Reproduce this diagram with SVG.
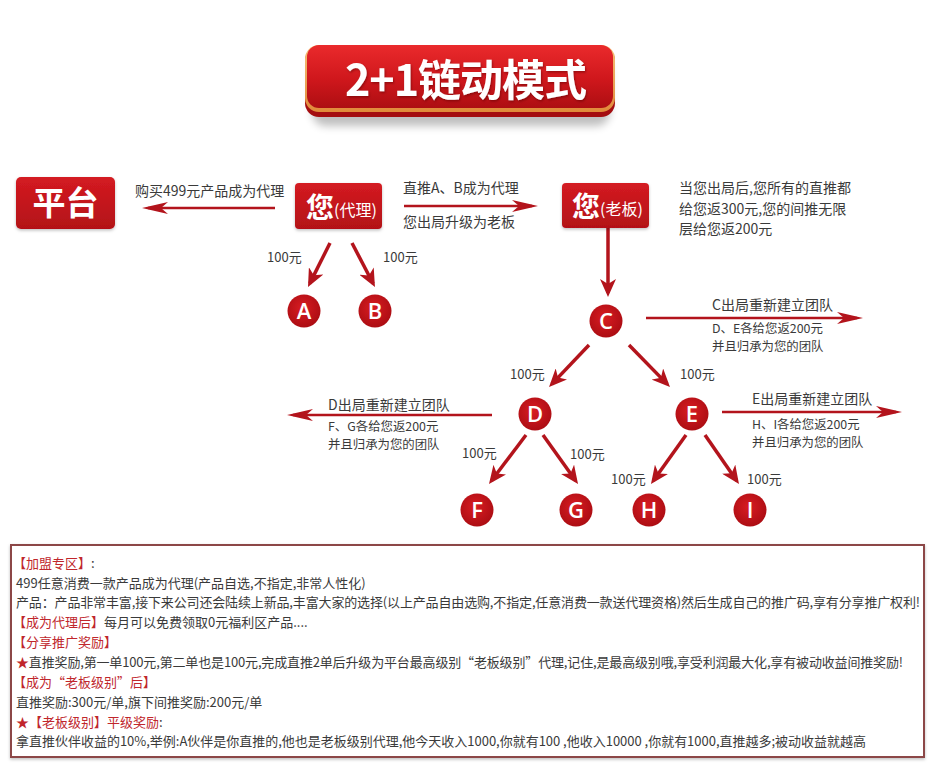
<svg xmlns="http://www.w3.org/2000/svg" width="933" height="766" viewBox="0 0 933 766">
<style>
  text { font-family: "Noto Sans CJK SC", "Noto Sans", sans-serif; }
  .lbl { font-size: 14px; fill: #3a3a3a; }
  .sub { font-size: 12.4px; fill: #3a3a3a; }
  .amt { font-size: 13px; fill: #3a3a3a; }
  .box { fill: url(#gBox); }
  .boxtxt { fill: #ffffff; }
  .circ { fill: url(#gCircle); }
  .ltr { font-family: "Open Sans", "Noto Sans", sans-serif; font-size: 22px; font-weight: 600; fill: #ffffff; text-anchor: middle; }
  .ah { stroke: #b3141c; stroke-width: 2.5; fill: none; marker-end: url(#mH); }
  .ad { stroke: #b3141c; stroke-width: 3.5; fill: none; marker-end: url(#mD); }
  .body { font-size: 13px; fill: #3a3a3a; }
  .red { fill: #c0262c; }
</style>
<defs>
  <linearGradient id="gTitle" x1="0" y1="0" x2="0" y2="1">
    <stop offset="0" stop-color="#ea2a2c"/>
    <stop offset="0.55" stop-color="#cf171c"/>
    <stop offset="1" stop-color="#ad0e12"/>
  </linearGradient>
  <linearGradient id="gGold" x1="0" y1="0" x2="0" y2="1">
    <stop offset="0" stop-color="#f6c27a"/>
    <stop offset="1" stop-color="#e08a3a"/>
  </linearGradient>
  <linearGradient id="gBox" x1="0" y1="0" x2="0" y2="1">
    <stop offset="0" stop-color="#d41b21"/>
    <stop offset="1" stop-color="#b31118"/>
  </linearGradient>
  <radialGradient id="gCircle" cx="0.45" cy="0.4" r="0.65">
    <stop offset="0" stop-color="#d81c22"/>
    <stop offset="1" stop-color="#a90c12"/>
  </radialGradient>
  <marker id="mH" markerUnits="userSpaceOnUse" viewBox="0 0 26 12" markerWidth="26" markerHeight="12" refX="20" refY="6" orient="auto">
    <path d="M0,0 L26,6 L0,12 L7,6 Z" fill="#b3141c"/>
  </marker>
  <marker id="mD" markerUnits="userSpaceOnUse" viewBox="0 0 18 16" markerWidth="18" markerHeight="16" refX="14" refY="8" orient="auto">
    <path d="M0,0 L18,8 L0,16 L5,8 Z" fill="#b3141c"/>
  </marker>
  <filter id="shTitle" x="-10%" y="-20%" width="120%" height="160%">
    <feGaussianBlur stdDeviation="4"/>
  </filter>
  <filter id="shSmall" x="-10%" y="-10%" width="120%" height="130%">
    <feDropShadow dx="0" dy="1.5" stdDeviation="1.5" flood-color="#000" flood-opacity="0.25"/>
  </filter>
  <filter id="txtSh" x="-5%" y="-10%" width="110%" height="130%">
    <feDropShadow dx="1" dy="1.5" stdDeviation="1" flood-color="#5a0000" flood-opacity="0.5"/>
  </filter>
</defs>

<rect width="933" height="766" fill="#ffffff"/>

<g id="title">
  <rect x="312" y="58" width="298" height="68" rx="14" fill="#000" opacity="0.25" filter="url(#shTitle)"/>
  <rect x="305" y="47" width="310" height="70" rx="14" fill="#a40d10"/>
  <rect x="305" y="45" width="310" height="67" rx="14" fill="url(#gGold)"/>
  <rect x="307" y="45" width="306" height="63" rx="12" fill="url(#gTitle)"/>
  <text x="466" y="96" text-anchor="middle" font-size="43" font-weight="bold" fill="#ffffff" filter="url(#txtSh)" textLength="242">2+1链动模式</text>
</g>

<g id="connectors">
  <line class="ah" x1="275" y1="208" x2="148" y2="208"/>
  <line class="ah" x1="404" y1="206" x2="532" y2="206"/>
  <line class="ah" x1="646" y1="318" x2="857" y2="318"/>
  <line class="ah" x1="492" y1="415" x2="293" y2="415"/>
  <line class="ah" x1="722" y1="412" x2="896" y2="412"/>
  <line class="ad" x1="330" y1="243" x2="309.8" y2="283.4"/>
  <line class="ad" x1="352" y1="243" x2="373.1" y2="283.5"/>
  <line class="ad" x1="608" y1="228" x2="608" y2="293"/>
  <line class="ad" x1="589" y1="345" x2="551.8" y2="384.1"/>
  <line class="ad" x1="629" y1="345" x2="667.2" y2="384.1"/>
  <line class="ad" x1="526" y1="435" x2="491.4" y2="480.8"/>
  <line class="ad" x1="543" y1="435" x2="575.7" y2="480.7"/>
  <line class="ad" x1="686" y1="435" x2="653.3" y2="480.7"/>
  <line class="ad" x1="705" y1="435" x2="736.7" y2="480.7"/>
</g>

<g id="labels">
  <text class="lbl" x="135" y="196">购买499元产品成为代理</text>
  <text class="lbl" x="403" y="193">直推A、B成为代理</text>
  <text class="lbl" x="403" y="227">您出局升级为老板</text>
  <text class="lbl" x="679" y="193">当您出局后,您所有的直推都</text>
  <text class="lbl" x="679" y="214">给您返300元,您的间推无限</text>
  <text class="lbl" x="679" y="234">层给您返200元</text>
  <text class="amt" x="267" y="262">100元</text>
  <text class="amt" x="383" y="262">100元</text>
  <text class="lbl" x="712" y="310">C出局重新建立团队</text>
  <text class="sub" x="712" y="333">D、E各给您返200元</text>
  <text class="sub" x="712" y="351">并且归承为您的团队</text>
  <text class="amt" x="510" y="379">100元</text>
  <text class="amt" x="680" y="379">100元</text>
  <text class="lbl" x="328" y="410">D出局重新建立团队</text>
  <text class="sub" x="328" y="431">F、G各给您返200元</text>
  <text class="sub" x="328" y="449">并且归承为您的团队</text>
  <text class="lbl" x="752" y="404">E出局重新建立团队</text>
  <text class="sub" x="752" y="429">H、I各给您返200元</text>
  <text class="sub" x="752" y="447">并且归承为您的团队</text>
  <text class="amt" x="462" y="458">100元</text>
  <text class="amt" x="570" y="459">100元</text>
  <text class="amt" x="611" y="484">100元</text>
  <text class="amt" x="747" y="484">100元</text>
</g>

<g id="node-platform">
  <rect class="box" x="16" y="177" width="99" height="52" rx="5" filter="url(#shSmall)"/>
  <text class="boxtxt" x="65.5" y="215" text-anchor="middle" font-size="33" font-weight="bold">平台</text>
</g>
<g id="node-you-agent">
  <rect class="box" x="295" y="183" width="87" height="46" rx="4" filter="url(#shSmall)"/>
  <text class="boxtxt" x="306" y="218" font-size="28" font-weight="bold">您<tspan font-size="16" font-weight="normal" dy="-2">(代理)</tspan></text>
</g>
<g id="node-you-boss">
  <rect class="box" x="562" y="183" width="87" height="45" rx="4" filter="url(#shSmall)"/>
  <text class="boxtxt" x="572" y="217" font-size="28" font-weight="bold">您<tspan font-size="16" font-weight="normal" dy="-2">(老板)</tspan></text>
</g>

<g id="node-A"><circle class="circ" cx="304" cy="311" r="16.5"/><text class="ltr" x="304" y="319">A</text></g>
<g id="node-B"><circle class="circ" cx="375" cy="311" r="16.5"/><text class="ltr" x="375" y="319">B</text></g>
<g id="node-C"><circle class="circ" cx="606" cy="321" r="16.5"/><text class="ltr" x="606" y="329">C</text></g>
<g id="node-D"><circle class="circ" cx="535" cy="414" r="16.5"/><text class="ltr" x="535" y="422">D</text></g>
<g id="node-E"><circle class="circ" cx="692" cy="414" r="16.5"/><text class="ltr" x="692" y="422">E</text></g>
<g id="node-F"><circle class="circ" cx="477" cy="510" r="16.5"/><text class="ltr" x="477" y="518">F</text></g>
<g id="node-G"><circle class="circ" cx="576" cy="510" r="16.5"/><text class="ltr" x="576" y="518">G</text></g>
<g id="node-H"><circle class="circ" cx="649" cy="510" r="16.5"/><text class="ltr" x="649" y="518">H</text></g>
<g id="node-I"><circle class="circ" cx="750" cy="510" r="16.5"/><text class="ltr" x="750" y="518">I</text></g>

<g id="info-box">
  <rect x="11" y="545" width="913" height="212" fill="#ffffff" stroke="#8c4646" stroke-width="2" filter="url(#shSmall)"/>
  <text class="body" x="13" y="568"><tspan class="red">【加盟专区】</tspan>:</text>
  <text class="body" x="16" y="588">499任意消费一款产品成为代理(产品自选,不指定,非常人性化)</text>
  <text class="body" x="16" y="607" textLength="904">产品：产品非常丰富,接下来公司还会陆续上新品,丰富大家的选择(以上产品自由选购,不指定,任意消费一款送代理资格)然后生成自己的推广码,享有分享推广权利!</text>
  <text class="body" x="13" y="627"><tspan class="red">【成为代理后】</tspan>每月可以免费领取0元福利区产品....</text>
  <text class="body red" x="13" y="647">【分享推广奖励】</text>
  <text class="body" x="16" y="667" textLength="887"><tspan class="red">★</tspan>直推奖励,第一单100元,第二单也是100元,完成直推2单后升级为平台最高级别“老板级别”代理,记住,是最高级别哦,享受利润最大化,享有被动收益间推奖励!</text>
  <text class="body red" x="13" y="687">【成为“老板级别”后】</text>
  <text class="body" x="16" y="707">直推奖励:300元/单,旗下间推奖励:200元/单</text>
  <text class="body" x="16" y="727"><tspan class="red">★【老板级别】平级奖励</tspan>:</text>
  <text class="body" x="16" y="746" textLength="850">拿直推伙伴收益的10%,举例:A伙伴是你直推的,他也是老板级别代理,他今天收入1000,你就有100 ,他收入10000 ,你就有1000,直推越多;被动收益就越高</text>
</g>
</svg>
